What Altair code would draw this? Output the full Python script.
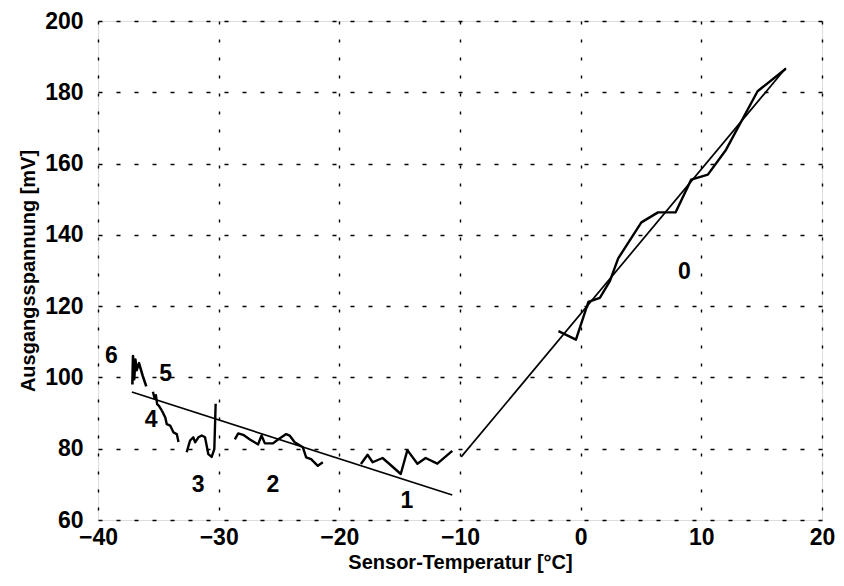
import altair as alt
import pandas as pd

# Measured sensor output, one trace per temperature step (0 ... 6)
t0 = [-1.84, -0.39, 0.64, 1.59, 2.42, 3.11, 5.03, 6.41, 7.86, 9.16, 10.54, 12.05, 14.66, 17.0]
v0 = [113.0, 110.6, 121.2, 122.3, 127.0, 133.4, 143.5, 146.3, 146.3, 155.5, 156.9, 163.9, 180.3, 186.6]

t1 = [-18.21, -17.66, -17.24, -16.42, -16.01, -14.91, -14.36, -13.53, -12.85, -11.88, -10.64]
v1 = [75.7, 78.3, 76.2, 77.4, 76.2, 72.9, 79.6, 75.8, 77.4, 75.8, 79.4]

t2 = [-28.66, -28.38, -27.97, -27.41, -26.73, -26.45, -26.17, -25.50, -25.08,
      -24.40, -24.12, -23.70, -23.02, -22.75, -22.34, -21.78, -21.37]
v2 = [82.6, 84.3, 83.9, 82.6, 81.2, 83.7, 81.5, 81.5, 82.6,
      84.1, 83.7, 81.8, 80.4, 77.6, 77.1, 75.2, 76.2]

t3 = [-32.65, -32.37, -32.10, -31.95, -31.68, -31.40, -31.13, -30.86, -30.58, -30.36, -30.25]
v3 = [79.0, 82.3, 83.2, 81.8, 83.2, 83.7, 83.2, 78.5, 77.7, 79.9, 92.6]

t4 = [-34.71, -34.43, -34.30, -34.02, -33.75, -33.47, -33.33]
v4 = [90.7, 88.8, 86.9, 86.5, 84.6, 84.1, 81.9]

t5 = [-35.45, -35.3, -35.2, -35.1, -34.95, -34.71]
v5 = [96.0, 94.0, 95.0, 92.5, 92.0, 90.7]

t6 = [-37.15, -37.1, -37.0, -36.9, -36.8, -36.6, -36.3, -36.0]
v6 = [98.0, 106.0, 99.5, 105.0, 102.0, 104.0, 100.5, 97.5]

# Straight-line fits: below -10 °C and above -10 °C
fit_low_t = [-37.19, -10.64]
fit_low_v = [95.9, 67.0]
fit_high_t = [-9.90, 17.0]
fit_high_v = [77.7, 186.8]

# Trace labels
label_text = ["0", "1", "2", "3", "4", "5", "6"]
label_t = [8.6, -14.4, -25.5, -31.7, -35.6, -34.4, -38.9]
label_v = [129.6, 65.4, 69.9, 69.9, 88.0, 101.0, 106.0]

traces = [(t0, v0, 2.4), (t1, v1, 2.4), (t2, v2, 2.4), (t3, v3, 2.4),
          (t4, v4, 2.4), (t5, v5, 2.4), (t6, v6, 2.6),
          (fit_low_t, fit_low_v, 1.7), (fit_high_t, fit_high_v, 1.7)]

rows = []
for k, (ts, vs, w) in enumerate(traces):
    for i, (t, v) in enumerate(zip(ts, vs)):
        rows.append({"trace": k, "i": i, "T": t, "V": v, "w": w})
lines_df = pd.DataFrame(rows)
labels_df = pd.DataFrame({"txt": label_text, "T": label_t, "V": label_v})

FONT = "Liberation Sans"

x_scale = alt.Scale(domain=[-40, 20], nice=False)
y_scale = alt.Scale(domain=[60, 200], nice=False)

x_axis = alt.Axis(
    title="Sensor-Temperatur [°C]", values=[-40, -30, -20, -10, 0, 10, 20],
    grid=True, gridColor="black", gridDash=[3, 15], gridWidth=1.4, gridOpacity=1,
    ticks=False, domain=False, labelFont=FONT, labelFontSize=23, labelFontWeight="bold",
    labelColor="black", labelPadding=6, titleFont=FONT, titleFontSize=20,
    titleFontWeight="bold", titleColor="black", titlePadding=3, labelFlush=False,
)
y_axis = alt.Axis(
    title="Ausgangsspannung [mV]", values=[60, 80, 100, 120, 140, 160, 180, 200],
    grid=True, gridColor="black", gridDash=[4, 14], gridWidth=1.4, gridOpacity=1,
    ticks=False, domain=False, labelFont=FONT, labelFontSize=23, labelFontWeight="bold",
    labelColor="black", labelPadding=15, titleFont=FONT, titleFontSize=20,
    titleFontWeight="bold", titleColor="black", titlePadding=6, labelFlush=False,
)

lines = alt.Chart(lines_df).mark_line(color="black", strokeJoin="round").encode(
    x=alt.X("T:Q", scale=x_scale, axis=x_axis),
    y=alt.Y("V:Q", scale=y_scale, axis=y_axis),
    detail="trace:N",
    order="i:Q",
    strokeWidth=alt.StrokeWidth("w:Q", scale=None, legend=None),
)

labels = alt.Chart(labels_df).mark_text(
    font=FONT, fontSize=23, fontWeight="bold", color="black", align="center", baseline="middle"
).encode(
    x=alt.X("T:Q", scale=x_scale),
    y=alt.Y("V:Q", scale=y_scale),
    text="txt:N",
)

chart = alt.layer(lines, labels).properties(
    width=724, height=499,
    autosize=alt.AutoSizeParams(type="none"),
    padding={"left": 98, "top": 21, "right": 22, "bottom": 66},
).configure_view(
    stroke="black", strokeWidth=1.8
).configure(background="white")

chart.save("out.html", embed_options={"renderer": "svg", "actions": False})
